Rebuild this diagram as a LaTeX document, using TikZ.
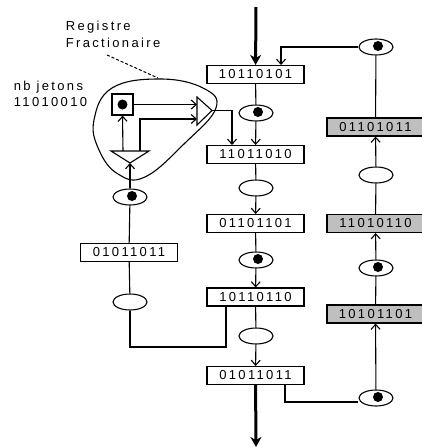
\documentclass[tikz,border=0pt]{standalone}
\usepackage{fontspec}
\setmainfont{Liberation Sans}
\newfontfamily\bitfont{Liberation Sans}[LetterSpace=18]
\usetikzlibrary{positioning, shapes.geometric, arrows.meta}

\begin{document}
\begin{tikzpicture}[
  x=1pt, y=-1pt, line width=1.1pt,
  every node/.style={align=center, font=\bitfont\fontsize{13}{17}\selectfont},
  reg/.style={rectangle, draw, minimum width=97pt, minimum height=18pt, inner sep=0pt},
  greyreg/.style={reg, fill=black!25},
  eye/.style={ellipse, draw, minimum width=34pt, minimum height=16pt, inner sep=0pt},
  markedeye/.style={eye, path picture={\fill ([shift={(2pt,1pt)}]path picture bounding box.center) circle (5pt);}},
  arr/.style={-{Straight Barb[length=5pt, width=9pt]}},
  flow/.style={line width=3pt, -{Stealth[length=10pt, width=11pt, inset=3pt]}}
]
\useasboundingbox (0,0) rectangle (422,448);

% Main column
\node[reg] (b1) at (255.5,74.5) {10110101};
\node[markedeye] (e2) at (256,113) {};
\node[reg] (b2) at (255.5,154.5) {11011010};
\node[eye] (e3) at (256,188) {};
\node[reg] (b3) at (255.5,223.5) {01101101};
\node[markedeye] (e4) at (256,260) {};
\node[reg] (b4) at (255.5,297) {10110110};
\node[eye] (e5) at (256,336) {};
\node[reg] (b5) at (255.5,375.5) {01011011};
\coordinate (in) at (256,7);
\coordinate (out) at (256,447);

% Right column
\node[markedeye] (r0) at (376,47) {};
\node[greyreg] (r1) at (375.5,127) {01101011};
\node[eye] (r2) at (376,175) {};
\node[greyreg] (r3) at (375.5,223.5) {11010110};
\node[markedeye] (r4) at (376,268) {};
\node[greyreg] (r5) at (375.5,314) {10101101};
\node[markedeye] (r6) at (376,398) {};

% Left column
\node[markedeye] (l1) at (130,197) {};
\node[reg] (l2) at (129,252.5) {01011011};
\node[eye] (l3) at (130,302) {};

% Registre fractionaire
\node[rectangle, draw, minimum size=21pt, inner sep=0pt,
  path picture={\fill (path picture bounding box.center) circle (5pt);}] (frac) at (122.5,104.5) {};
\draw (111,151) -- (149,151) -- (130,163) -- cycle;
\draw (197,97) -- (212,110.5) -- (197,125) -- cycle;
\coordinate (down) at (130,163);
\coordinate (cmp) at (212,110.5);
\draw plot[smooth cycle, tension=0.7] coordinates {(94,120) (112,88) (160,79) (203,88) (216,108) (185,143) (145,177) (118,174) (99,150)};
\draw[dash pattern=on 3pt off 2pt, line width=1pt] (107,55) -- (158,78);
\node[anchor=west, align=left] (lbl) at (62,34) {Registre\\Fractionaire};
\node[anchor=west, align=left, font=\bitfont\fontsize{13}{16}\selectfont] (nb) at (10,94) {nb jetons\\11010010};

% Connectors
\draw[flow] (in) -- (b1);
\draw[flow] (b5) -- (out);
\draw (b1) -- (e2);
\draw[arr] (e2) -- (b2);
\draw (b2) -- (e3);
\draw[arr] (e3) -- (b3);
\draw (b3) -- (e4);
\draw[arr] (e4) -- (b4);
\draw (b4) -- (e5);
\draw[arr] (e5) -- (b5);
\draw[arr] (r0.west) -| ([xshift=25.5pt]b1.north);
\draw (r1) -- (r0);
\draw[arr] (r2) -- (r1);
\draw (r3) -- (r2);
\draw[arr] (r4) -- (r3);
\draw (r5) -- (r4);
\draw[arr] (r6) -- (r5);
\draw ([xshift=29.5pt]b5.south) |- ([yshift=-4pt]r6.west);
\draw (l2) -- (l1);
\draw (l2) -- (l3);
\draw (l3.south) |- (226,347) -- ([xshift=-29.5pt]b4.south);
\draw[arr] (l1) -- (down);
\draw[arr] (123,151) -- (frac.south);
\draw[arr] (140,151) |- (197,119);
\draw[arr] (frac.east) -- (197,104.5);
\draw[arr] (cmp) -| ([xshift=-23.5pt]b2.north);
\end{tikzpicture}
\end{document}
